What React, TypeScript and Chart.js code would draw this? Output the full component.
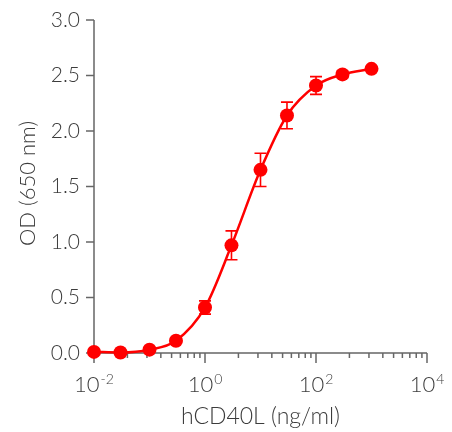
import { useEffect, useRef } from "react";
import { Chart, registerables } from "chart.js";

Chart.register(...registerables);

const concentrations = [0.01, 0.03, 0.1, 0.3, 1, 3, 10, 30, 100, 300, 1000];
const odValues = [0.01, 0.005, 0.03, 0.11, 0.41, 0.97, 1.65, 2.14, 2.41, 2.51, 2.56];
const odErrors = [0, 0, 0, 0.01, 0.06, 0.13, 0.15, 0.12, 0.08, 0.03, 0.01];
const yTicks = [0, 0.5, 1, 1.5, 2, 2.5, 3];
const yTickLabels = ["0.0", "0.5", "1.0", "1.5", "2.0", "2.5", "3.0"];
const xMajorExponents = [-2, 0, 2, 4];
const xMinorMultipliers = [4, 9, 16, 25, 36, 49, 64, 81];
const xTitle = "hCD40L (ng/ml)";
const yTitle = "OD (650 nm)";

const RED = "#ff0000";
const AXIS = "#666666";
const TEXT = "#3c3c3c";
const FONT = "Lato, 'Open Sans', sans-serif";

const errorBarPlugin = {
  id: "errorBars",
  beforeDatasetsDraw(chart: any) {
    const ctx = chart.ctx;
    const xs = chart.scales.x;
    const ys = chart.scales.y;
    ctx.save();
    ctx.strokeStyle = RED;
    ctx.lineWidth = 1.6;
    concentrations.forEach((c, i) => {
      const e = odErrors[i];
      if (!e) return;
      const px = xs.getPixelForValue(c);
      const top = ys.getPixelForValue(odValues[i] + e);
      const bot = ys.getPixelForValue(odValues[i] - e);
      ctx.beginPath();
      ctx.moveTo(px, top);
      ctx.lineTo(px, bot);
      ctx.moveTo(px - 6, top);
      ctx.lineTo(px + 6, top);
      ctx.moveTo(px - 6, bot);
      ctx.lineTo(px + 6, bot);
      ctx.stroke();
    });
    ctx.restore();
  },
};

const axesPlugin = {
  id: "customAxes",
  beforeDatasetsDraw(chart: any) {
    const ctx = chart.ctx;
    const xs = chart.scales.x;
    const ys = chart.scales.y;
    const area = chart.chartArea;
    ctx.save();
    ctx.strokeStyle = AXIS;
    ctx.lineWidth = 1.5;
    ctx.lineCap = "butt";
    ctx.beginPath();
    ctx.moveTo(area.left, area.top);
    ctx.lineTo(area.left, area.bottom);
    ctx.moveTo(area.left, area.bottom);
    ctx.lineTo(area.right, area.bottom);
    ctx.stroke();
    ctx.fillStyle = TEXT;
    ctx.font = `300 21px ${FONT}`;
    ctx.textAlign = "right";
    ctx.textBaseline = "middle";
    yTicks.forEach((v, i) => {
      const py = ys.getPixelForValue(v);
      ctx.beginPath();
      ctx.moveTo(area.left - 8, py);
      ctx.lineTo(area.left, py);
      ctx.stroke();
      ctx.fillText(yTickLabels[i], area.left - 14, py);
    });
    xMajorExponents.forEach((ex, idx) => {
      const base = Math.pow(10, ex);
      const px = xs.getPixelForValue(base);
      ctx.beginPath();
      ctx.moveTo(px, area.bottom);
      ctx.lineTo(px, area.bottom + 10);
      ctx.stroke();
      if (idx < xMajorExponents.length - 1) {
        xMinorMultipliers.forEach((m) => {
          const mx = xs.getPixelForValue(base * m);
          ctx.beginPath();
          ctx.moveTo(mx, area.bottom);
          ctx.lineTo(mx, area.bottom + 5);
          ctx.stroke();
        });
      }
      ctx.font = `300 22px ${FONT}`;
      const w10 = ctx.measureText("10").width;
      ctx.font = `300 14px ${FONT}`;
      const sup = ex < 0 ? "-" + Math.abs(ex) : String(ex);
      const wSup = ctx.measureText(sup).width;
      const total = w10 + 1 + wSup;
      const start = px - total / 2;
      ctx.textAlign = "left";
      ctx.textBaseline = "alphabetic";
      ctx.font = `300 22px ${FONT}`;
      ctx.fillText("10", start, 392);
      ctx.font = `300 14px ${FONT}`;
      ctx.fillText(sup, start + w10 + 1, 384);
    });
    ctx.font = `300 23px ${FONT}`;
    ctx.textAlign = "center";
    ctx.textBaseline = "alphabetic";
    ctx.fillText(xTitle, (area.left + area.right) / 2, 424);
    ctx.font = `300 22px ${FONT}`;
    ctx.save();
    ctx.translate(28, (area.top + area.bottom) / 2 - 3);
    ctx.rotate(-Math.PI / 2);
    ctx.textBaseline = "middle";
    ctx.fillText(yTitle, 0, 0);
    ctx.restore();
    ctx.restore();
  },
};

export default function App() {
  const canvasRef = useRef<HTMLCanvasElement | null>(null);

  useEffect(() => {
    if (!canvasRef.current) return;
    const chart = new Chart(canvasRef.current, {
      type: "line",
      data: {
        datasets: [
          {
            data: concentrations.map((c, i) => ({ x: c, y: odValues[i] })),
            borderColor: RED,
            backgroundColor: RED,
            borderWidth: 2.5,
            pointRadius: 7,
            pointHoverRadius: 7,
            pointBackgroundColor: RED,
            pointBorderWidth: 0,
            tension: 0.4,
            cubicInterpolationMode: "monotone",
            clip: false as any,
            fill: false,
          } as any,
        ],
      },
      options: {
        animation: false,
        responsive: true,
        maintainAspectRatio: false,
        layout: { padding: { left: 94, right: 25, top: 20, bottom: 79 } },
        scales: {
          x: { type: "logarithmic", min: 0.01, max: 10000, display: false },
          y: { type: "linear", min: 0, max: 3, display: false },
        },
        plugins: {
          legend: { display: false },
          tooltip: { enabled: false },
        },
        events: [],
      },
      plugins: [axesPlugin, errorBarPlugin],
    });
    return () => chart.destroy();
  }, []);

  return (
    <div
      style={{
        position: "fixed",
        left: 0,
        top: 0,
        width: 452,
        height: 432,
        background: "#ffffff",
      }}
    >
      <canvas ref={canvasRef} />
    </div>
  );
}
